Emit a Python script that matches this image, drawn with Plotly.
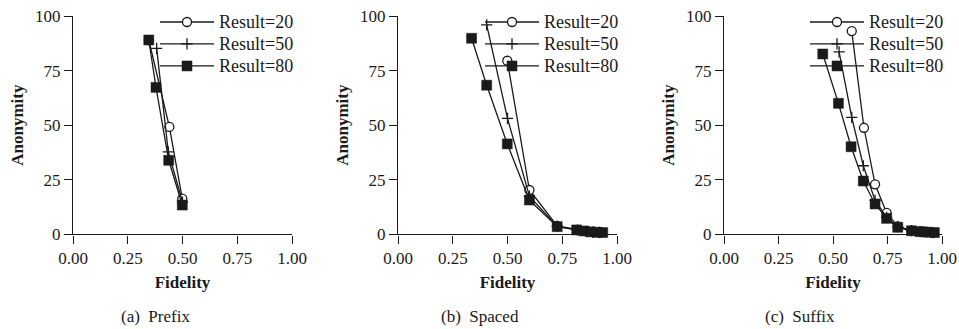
import plotly.graph_objects as go

# ---------------- data ----------------
panel_names = ["(a)\u00a0\u00a0Prefix", "(b)\u00a0\u00a0Spaced", "(c)\u00a0\u00a0Suffix"]
series_names = ["Result=20", "Result=50", "Result=80"]

prefix_r20_x = [0.346, 0.44, 0.499]
prefix_r20_y = [89.0, 49.2, 16.3]
prefix_r50_x = [0.382, 0.435, 0.50]
prefix_r50_y = [85.2, 37.8, 14.8]
prefix_r80_x = [0.346, 0.379, 0.437, 0.499]
prefix_r80_y = [89.0, 67.3, 33.9, 13.4]

spaced_r20_x = [0.499, 0.600, 0.727, 0.82, 0.86, 0.89, 0.92]
spaced_r20_y = [79.5, 20.3, 3.8, 2.0, 1.5, 1.1, 0.9]
spaced_r50_x = [0.405, 0.50, 0.60, 0.727, 0.82, 0.86, 0.89, 0.92]
spaced_r50_y = [95.9, 53.1, 17.5, 3.6, 1.9, 1.4, 1.0, 0.9]
spaced_r80_x = [0.336, 0.405, 0.499, 0.60, 0.727, 0.816, 0.85, 0.88, 0.91, 0.935]
spaced_r80_y = [89.8, 68.3, 41.4, 15.7, 3.5, 2.0, 1.5, 1.1, 0.9, 0.8]

suffix_r20_x = [0.586, 0.642, 0.693, 0.746, 0.797, 0.86, 0.90, 0.93, 0.96]
suffix_r20_y = [93.1, 48.8, 22.9, 9.8, 3.6, 1.8, 1.3, 1.0, 0.8]
suffix_r50_x = [0.528, 0.586, 0.639, 0.693, 0.746, 0.797, 0.86, 0.90, 0.93, 0.96]
suffix_r50_y = [83.6, 53.6, 31.4, 15.5, 7.8, 3.4, 1.7, 1.2, 1.0, 0.8]
suffix_r80_x = [0.453, 0.525, 0.583, 0.639, 0.693, 0.746, 0.797, 0.86, 0.90, 0.93, 0.965]
suffix_r80_y = [82.6, 60.0, 40.1, 24.4, 13.9, 7.3, 3.2, 1.6, 1.2, 1.0, 0.8]

x_ticks = [0, 0.25, 0.5, 0.75, 1.0]
x_tick_labels = ["0.00", "0.25", "0.50", "0.75", "1.00"]
y_ticks = [0, 25, 50, 75, 100]
y_tick_labels = ["0", "25", "50", "75", "100"]

panels = [
    [(prefix_r20_x, prefix_r20_y), (prefix_r50_x, prefix_r50_y), (prefix_r80_x, prefix_r80_y)],
    [(spaced_r20_x, spaced_r20_y), (spaced_r50_x, spaced_r50_y), (spaced_r80_x, spaced_r80_y)],
    [(suffix_r20_x, suffix_r20_y), (suffix_r50_x, suffix_r50_y), (suffix_r80_x, suffix_r80_y)],
]

# ---------------- style ----------------
W, H = 959, 329
FONT = "Liberation Serif, Times New Roman, serif"
INK = "#1a1a1a"
markers = [
    dict(symbol="circle", size=9, color="white", line=dict(color=INK, width=1.3)),
    dict(symbol="cross-thin", size=8, color=INK, line=dict(color=INK, width=1.3)),
    dict(symbol="square", size=10, color=INK, line=dict(color=INK, width=0.5)),
]
x_domains = [(73, 292), (398, 617), (724, 942)]
y_top_px, y_bot_px = 16, 234.3
caption_centers = [155, 480, 800]
legend_left_px = [155, 480, 805]
LEG_ROW_FONT = 14.6   # sets legend row spacing (~22 px)
LEG_TEXT_SIZE = 18

fig = go.Figure()
legend_keys = ["legend", "legend2", "legend3"]
for p, series in enumerate(panels):
    ax = "" if p == 0 else str(p + 1)
    for s, (xs, ys) in enumerate(series):
        fig.add_trace(go.Scatter(
            x=xs, y=ys,
            name=f'<span style="font-size:{LEG_TEXT_SIZE}px">{series_names[s]}</span>',
            mode="lines+markers",
            line=dict(color=INK, width=1.3), marker=markers[s],
            xaxis="x" + ax, yaxis="y" + ax, legend=legend_keys[p],
            cliponaxis=False,
        ))

layout = dict(
    width=W, height=H, margin=dict(l=0, r=0, t=0, b=0, autoexpand=False),
    paper_bgcolor="white", plot_bgcolor="white",
    font=dict(family=FONT, color=INK, size=17),
    annotations=[],
)
ydom = [(H - y_bot_px) / H, (H - y_top_px) / H]
for p in range(3):
    ax = "" if p == 0 else str(p + 1)
    x0, x1 = x_domains[p]
    axis_common = dict(showgrid=False, zeroline=False, showline=True, linecolor=INK,
                       linewidth=1.4, ticks="outside", ticklen=8, tickwidth=1.4,
                       tickcolor=INK, automargin=False,
                       tickfont=dict(family=FONT, size=17, color=INK))
    layout["xaxis" + ax] = dict(
        domain=[x0 / W, x1 / W], range=[0, 1], anchor="y" + ax,
        tickvals=x_ticks, ticktext=x_tick_labels,
        title=dict(text="<b>Fidelity</b>", font=dict(family=FONT, size=17, color=INK), standoff=9),
        **axis_common)
    layout["yaxis" + ax] = dict(
        domain=ydom, range=[0, 100], anchor="x" + ax,
        tickvals=y_ticks, ticktext=y_tick_labels,
        title=dict(text="<b>Anonymity</b>", font=dict(family=FONT, size=17, color=INK), standoff=6),
        **axis_common)
    layout[legend_keys[p]] = dict(
        x=legend_left_px[p] / W, y=(H - 6) / H, xanchor="left", yanchor="top",
        bgcolor="rgba(0,0,0,0)", borderwidth=0, itemwidth=54,
        font=dict(family=FONT, size=LEG_ROW_FONT, color=INK), tracegroupgap=0,
    )
    layout["annotations"].append(dict(
        x=caption_centers[p] / W, y=(H - 316.7) / H, xref="paper", yref="paper",
        text=panel_names[p], showarrow=False, xanchor="center", yanchor="middle",
        font=dict(family=FONT, size=17, color=INK)))

fig.update_layout(**layout)
fig.write_html("out.html")
